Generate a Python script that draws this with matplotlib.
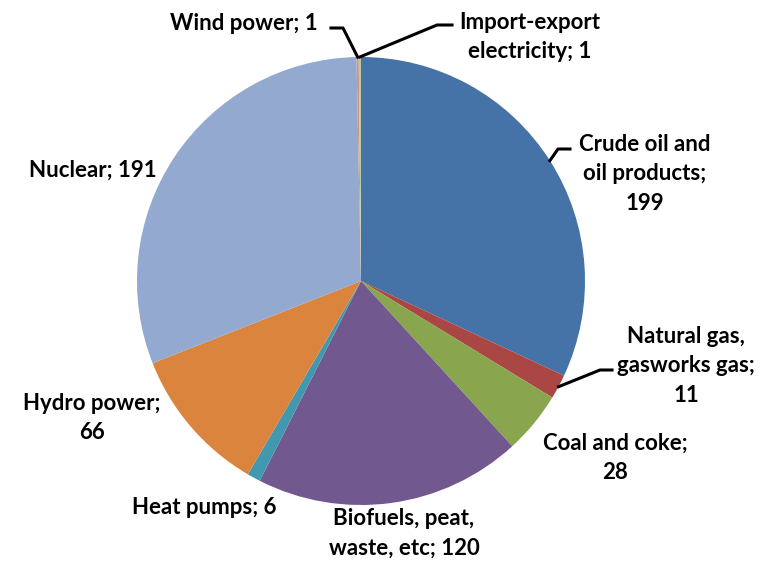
import numpy as np
import matplotlib.pyplot as plt

labels = ["Crude oil and\noil products;\n199", "Natural gas,\ngasworks gas;\n11",
          "Coal and coke;\n28", "Biofuels, peat,\nwaste, etc; 120", "Heat pumps; 6",
          "Hydro power;\n66", "Nuclear; 191", "Wind power; 1",
          "Import-export\nelectricity; 1"]
values = [199, 11, 28, 120, 6, 66, 191, 1, 1]
colors = ["#4572A7", "#AA4643", "#89A54E", "#71588F", "#4198AF",
          "#DB843D", "#93A9CF", "#D19392", "#B9CD96"]

# label centres in pixels of the 764x563 image, and leader elbows (None = no leader)
label_px = [(645, 174), (686, 366), (615, 458), (404, 533), (204, 508),
            (92, 418), (93, 170), (244, 23), (530, 37)]
leader_px = [[(558, 149), (570, 149)], [(600, 370), (612, 370)], None, None, None,
             None, None, [(343, 28), (331, 28)], [(437, 25), (452, 25)]]

CX, CY, R = 361, 281, 224
W, H = 764, 563


def to_data(p):
    return ((p[0] - CX) / R, (CY - p[1]) / R)


fig = plt.figure(figsize=(7.64, 5.63), dpi=100)
ax = fig.add_axes([(CX - R) / W, (H - CY - R) / H, 2 * R / W, 2 * R / H])
wedges, _ = ax.pie(values, colors=colors, startangle=90, counterclock=False,
                   radius=1, wedgeprops=dict(linewidth=0))
ax.set_xlim(-1, 1)
ax.set_ylim(-1, 1)
ax.set_aspect("equal")
ax.axis("off")

for w, lab, pos, lead in zip(wedges, labels, label_px, leader_px):
    x, y = to_data(pos)
    ax.text(x, y, lab, ha="center", va="center", fontsize=16, fontweight="bold",
            family="Lato", linespacing=1.5, clip_on=False)
    if lead is not None:
        mid = np.deg2rad((w.theta1 + w.theta2) / 2)
        pts = [(np.cos(mid), np.sin(mid))] + [to_data(p) for p in lead]
        xs, ys = zip(*pts)
        ax.plot(xs, ys, color="black", lw=2.2, clip_on=False)

fig.savefig("out.png", dpi=100)
